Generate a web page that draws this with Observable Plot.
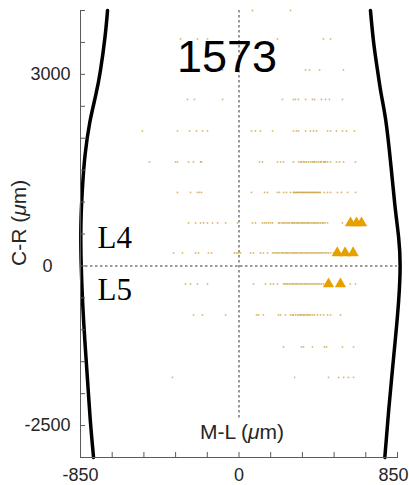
<!DOCTYPE html>
<html><head><meta charset="utf-8">
<script src="https://cdn.jsdelivr.net/npm/d3@7"></script>
<script src="https://cdn.jsdelivr.net/npm/@observablehq/plot@0.6"></script>
<style>body{margin:0;background:#fff}#chart{width:409px;height:485px}</style>
</head><body><div id="chart"></div>
<script>
// ---- text ----
const title = "1573";
const xLabel = "M-L (μm)";
const yLabel = "C-R (μm)";
const layerNames = ["L4", "L5"];
const layerX = [-759, -759];
const layerY = [438, -376];

// ---- axes ----
const xTicks = [-850, -680, -510, -340, -170, 0, 170, 340, 510, 680, 850];
const xTickLabels = [-850, 0];
const xTickLabelsRight = [850];
const yTicks = [-3000, -2500, -2000, -1500, -1000, -500, 0, 500, 1000, 1500, 2000, 2500, 3000, 3500, 4000];
const yTickLabels = [-2500, 3000];
const yZeroLabel = [0];

// ---- reference lines ----
const midlineX = 0, midlineTop = 4000, midlineBottom = -2380;
const boundaryLineY = 0;

// ---- tissue boundaries ----
const leftBoundX = [-705, -718, -743, -770, -800, -825, -840, -848, -846, -838, -826, -812, -798, -780];
const leftBoundY = [4000, 3600, 3060, 2650, 2250, 1750, 1200, 600, 0, -600, -1200, -1800, -2400, -3000];
const rightBoundX = [705, 722, 743, 762, 786, 812, 836, 856, 864, 856, 840, 822, 803, 782];
const rightBoundY = [4000, 3500, 3060, 2700, 2300, 1650, 950, 450, 0, -550, -1100, -1650, -2250, -3000];

// ---- cell positions: one row of x values per row y ----
const rowY = [4000, 3555, 3069, 2607, 2114, 1629, 1151, 673, 204, -282, -767, -1268, -1746];
const rowDotsX = [
  [72, 276],
  [-314, -223, -169, 206, 453, 491],
  [-260, -169, -88, 158, 357, 378, 432, 560],
  [-276, -239, -88, 233, 292, 303, 319, 357, 394, 405, 442, 464, 485, 555],
  [-518, -330, -265, -228, -196, -169, 67, 88, 115, 180, 292, 308, 319, 357, 383, 400, 416, 475, 491, 523, 555, 577, 619],
  [-480, -341, -330, -271, -244, -206, -201, 110, 126, 206, 223, 239, 292, 319, 330, 335, 346, 352, 362, 372, 383, 393, 400, 406, 416, 426, 436, 442, 453, 459, 464, 475, 491, 523, 539, 561, 625],
  [-330, -260, -223, -212, -201, 67, 137, 153, 206, 217, 239, 255, 276, 292, 297, 304, 309, 315, 320, 326, 333, 339, 344, 350, 357, 363, 368, 375, 381, 386, 393, 399, 404, 411, 417, 423, 430, 437, 458, 475, 491, 528, 550, 582, 625],
  [-271, -233, -206, -190, -169, -142, -115, -72, -8, 72, 88, 126, 137, 147, 158, 169, 180, 212, 219, 231, 238, 246, 255, 263, 270, 281, 287, 294, 300, 309, 316, 322, 331, 338, 344, 352, 359, 367, 373, 381, 390, 398, 405, 413, 420, 428, 437, 446, 453, 462, 475, 555],
  [-351, -303, -233, -217, -164, -147, -24, -13, -3, 8, 62, 78, 115, 131, 153, 180, 190, 199, 208, 215, 226, 233, 241, 250, 257, 264, 273, 282, 290, 297, 305, 312, 321, 330, 336, 344, 353, 361, 368, 377, 386, 393, 402, 410, 418, 427, 435, 444, 452, 462, 470, 480, 491, 507],
  [-287, -260, -223, -169, 78, 142, 169, 185, 206, 239, 247, 255, 262, 271, 279, 287, 294, 303, 310, 318, 327, 334, 342, 351, 358, 366, 374, 383, 391, 399, 408, 416, 425, 433, 442, 453, 597, 625],
  [-244, -196, -72, 94, 105, 131, 212, 223, 249, 276, 287, 292, 303, 314, 322, 330, 336, 345, 351, 360, 368, 374, 383, 394, 405, 421, 437, 453, 475, 491, 544],
  [239, 335, 346, 394, 458, 469, 555, 614],
  [-357, 298, 480, 534, 561, 587, 614]
];

// ---- highlighted cells (triangles) ----
const triX = [598, 630, 657, 527, 569, 612, 480, 544];
const triY = [673, 673, 673, 204, 204, 204, -282, -282];

// ---- build tables ----
const dots = rowY.flatMap((y, i) => rowDotsX[i].map(x => ({x, y})));
const tris = triX.map((x, i) => ({x, y: triY[i]}));
const leftBound = leftBoundX.map((x, i) => ({x, y: leftBoundY[i]}));
const rightBound = rightBoundX.map((x, i) => ({x, y: rightBoundY[i]}));
const layers = layerNames.map((t, i) => ({t, x: layerX[i], y: layerY[i]}));

const axisColor = "#5a5a5a";
const labelColor = "#262626";
const sans = "'Liberation Sans', Arial, Helvetica, sans-serif";

const plot = Plot.plot({
  width: 409, height: 485,
  marginLeft: 80, marginRight: 12, marginTop: 10, marginBottom: 28,
  x: {domain: [-850, 850]},
  y: {domain: [-3000, 4000]},
  style: {fontFamily: sans, background: "white", color: labelColor},
  marks: [
    Plot.ruleY([boundaryLineY], {stroke: "#7a7a7a", strokeWidth: 1.5, strokeDasharray: "2.5,2.5"}),
    Plot.ruleX([midlineX], {y1: midlineBottom, y2: midlineTop, stroke: "#7a7a7a", strokeWidth: 1.5, strokeDasharray: "2.5,2.5"}),
    Plot.dot(dots, {x: "x", y: "y", r: 0.9, fill: "#c8972a", fillOpacity: 0.7, stroke: null}),
    Plot.dot(tris, {x: "x", y: "y", symbol: "triangle", r: 4.2, fill: "#e6a000", stroke: null}),
    Plot.line(leftBound, {x: "x", y: "y", curve: "natural", stroke: "black", strokeWidth: 3.5}),
    Plot.line(rightBound, {x: "x", y: "y", curve: "natural", stroke: "black", strokeWidth: 3.5}),
    Plot.text(layers, {x: "x", y: "y", text: "t", textAnchor: "start", fontFamily: "'Liberation Serif', 'Times New Roman', serif", fontSize: 31, fill: "black"}),
    Plot.text([title], {frameAnchor: "top", dx: -12, dy: 30, fontSize: 45, fill: "black"}),
    Plot.text([xLabel], {x: () => 0, frameAnchor: "bottom", dx: 3, dy: -19, fontSize: 21, fill: labelColor}),
    Plot.text([yLabel], {y: () => 0, frameAnchor: "left", rotate: -90, dx: -61, fontSize: 21, fill: labelColor}),
    Plot.frame({anchor: "left", stroke: axisColor}),
    Plot.frame({anchor: "bottom", stroke: axisColor}),
    Plot.tickX(xTicks, {x: d => d, insetTop: 442, stroke: axisColor}),
    Plot.tickY(yTicks, {y: d => d, insetRight: 312, stroke: axisColor}),
    Plot.axisX(xTickLabels, {tickSize: 0, tickPadding: 11, fontSize: 18, tickFormat: d => String(d), label: null, fill: labelColor}),
    Plot.axisX(xTickLabelsRight, {tickSize: 0, tickPadding: 11, fontSize: 18, dx: -4, tickFormat: d => String(d), label: null, fill: labelColor}),
    Plot.axisY(yTickLabels, {tickSize: 0, tickPadding: 10, fontSize: 18, tickFormat: d => String(d), label: null, fill: labelColor}),
    Plot.axisY(yZeroLabel, {tickSize: 0, tickPadding: 28, fontSize: 18, tickFormat: d => String(d), label: null, fill: labelColor})
  ]
});

// italic mu
d3.select(plot).selectAll("text").each(function () {
  const t = this.textContent;
  if (t.includes("μ") && this.children.length === 0) {
    const [a, b] = t.split("μ");
    const s = d3.select(this);
    s.text(null);
    s.append("tspan").text(a);
    s.append("tspan").attr("font-style", "italic").text("μ");
    s.append("tspan").text(b);
  }
});

document.getElementById("chart").appendChild(plot);
</script>
</body></html>
